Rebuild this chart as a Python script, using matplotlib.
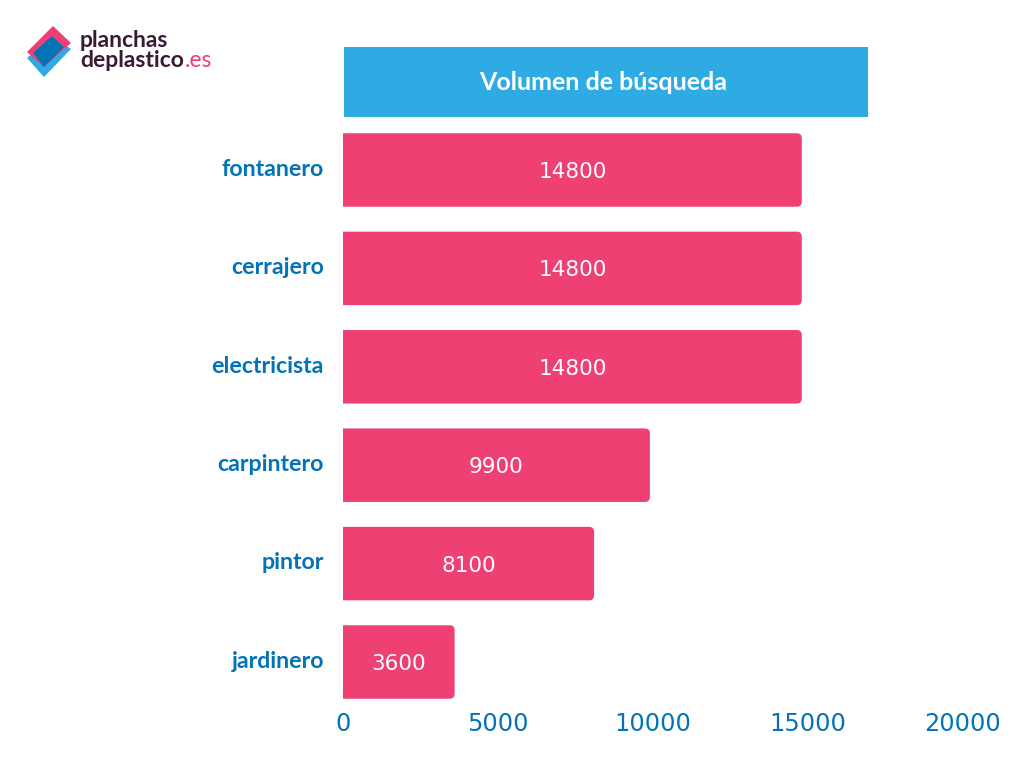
import matplotlib
matplotlib.use("Agg")
import matplotlib.pyplot as plt
from matplotlib.patches import PathPatch, Polygon, Rectangle
from matplotlib.path import Path
from matplotlib.transforms import ScaledTranslation

categories = ["fontanero", "cerrajero", "electricista", "carpintero", "pintor", "jardinero"]
values = [14800, 14800, 14800, 9900, 8100, 3600]
xticks = [0, 5000, 10000, 15000, 20000]
header = "Volumen de búsqueda"

W, H = 1024, 768
PINK, BLUE, SKY, DARK = "#ef4074", "#0273b6", "#2fabe3", "#3b1a36"
fig = plt.figure(figsize=(W/100, H/100), dpi=100, facecolor="white")
def fx(p): return p/W
def fy(p): return 1-p/H

top, bottom = 120.0, 711.0
ax = fig.add_axes([fx(343), fy(bottom), (963-343)/W, (bottom-top)/H])
ax.set_xlim(0, 20000)
step = 98.4
ax.set_ylim((bottom-170)/step, -(170-top)/step)
ph = 73.5/step
rx = 5*20000/620   # corner radius in data-x
ry = 5/step        # corner radius in data-y
for i, (c, v) in enumerate(zip(categories, values)):
    y0, y1 = i-ph/2, i+ph/2
    verts = [(0, y0), (v-rx, y0), (v, y0), (v, y0+ry), (v, y1-ry), (v, y1), (v-rx, y1), (0, y1), (0, y0)]
    codes = [Path.MOVETO, Path.LINETO, Path.CURVE3, Path.CURVE3, Path.LINETO,
             Path.CURVE3, Path.CURVE3, Path.LINETO, Path.CLOSEPOLY]
    ax.add_patch(PathPatch(Path(verts, codes), fc=PINK, ec="none"))
    ax.text(v/2, i + 0.02, str(v), color="white", ha="center", va="center",
            fontsize=15.5, family="DejaVu Sans")
ax.set_yticks(range(len(categories)), categories)
ax.set_xticks(xticks, [str(t) for t in xticks])
ax.tick_params(axis="both", length=0)
ax.tick_params(axis="y", pad=13.8, labelcolor=BLUE, labelsize=16.7)
ax.tick_params(axis="x", pad=0.6, labelcolor=BLUE, labelsize=17.3)
shift = ScaledTranslation(0, 2/72, fig.dpi_scale_trans)
for t in ax.get_yticklabels():
    t.set_family("Lato"); t.set_weight("bold"); t.set_va("center_baseline")
    t.set_transform(t.get_transform() + shift)
for t in ax.get_xticklabels():
    t.set_family("DejaVu Sans")
for s in ax.spines.values():
    s.set_visible(False)

# header band
fig.add_artist(Rectangle((fx(344), fy(117)), 524/W, 70/H, transform=fig.transFigure, fc=SKY, ec="none"))
fig.text(fx(603), fy(82), header, color="white", ha="center", va="center",
         fontsize=18, family="Lato", weight="bold")

# logo
def poly(pts, c):
    fig.add_artist(Polygon([(fx(x), fy(y)) for x, y in pts], transform=fig.transFigure, fc=c, ec="none"))
poly([(27, 58), (52, 36), (71, 49), (44, 77)], SKY)
poly([(27, 52), (53, 26), (71, 43), (44, 67)], PINK)
poly([(33, 53), (52, 36), (64, 47), (44, 67)], BLUE)
logo_kw = dict(ha="left", va="baseline", fontsize=16.5, family="Lato")
fig.text(fx(80), fy(47), "planchas", color=DARK, weight="bold", **logo_kw)
fig.text(fx(80), fy(67), "deplastico", color=DARK, weight="bold", **logo_kw)
fig.text(fx(185), fy(67), ".es", color=PINK, **logo_kw)

fig.savefig("out.png", dpi=100, facecolor="white")
